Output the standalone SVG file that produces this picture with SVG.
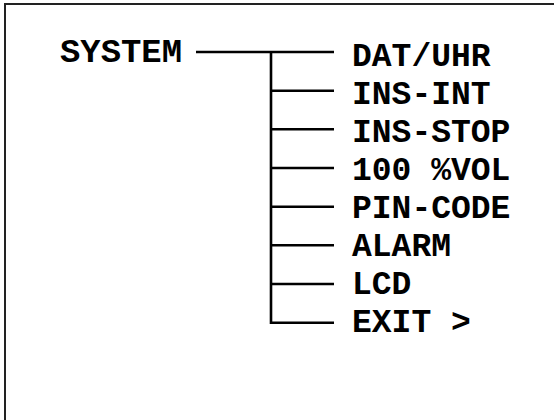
<svg xmlns="http://www.w3.org/2000/svg" width="554" height="420" viewBox="0 0 554 420">
<style>
.t{font-family:"Liberation Mono","Courier New",monospace;font-weight:bold;font-size:33px;fill:#000}
.c{stroke:#000;stroke-width:2.6;fill:none}
.b{stroke:#222;stroke-width:2;fill:none}
</style>
<rect width="554" height="420" fill="#fff"/>
<path class="b" d="M5,420 V4 H554"/>
<g id="system"><text class="t" x="60" y="62" textLength="122" lengthAdjust="spacingAndGlyphs">SYSTEM</text></g>
<g id="connectors">
<path class="c" d="M196,52 H334 M271,52 V322.7 H334 M271,90.7 H334 M271,129.3 H334 M271,168 H334 M271,206.7 H334 M271,245.3 H334 M271,284 H334"/>
</g>
<g id="n1"><text class="t" x="352" y="65.7">DAT/UHR</text></g>
<g id="n2"><text class="t" x="352" y="103.7">INS-INT</text></g>
<g id="n3"><text class="t" x="352" y="141.7">INS-STOP</text></g>
<g id="n4"><text class="t" x="352" y="179.7">100 %VOL</text></g>
<g id="n5"><text class="t" x="352" y="217.7">PIN-CODE</text></g>
<g id="n6"><text class="t" x="352" y="255.7">ALARM</text></g>
<g id="n7"><text class="t" x="352" y="293.7">LCD</text></g>
<g id="n8"><text class="t" x="352" y="331.7">EXIT &gt;</text></g>
</svg>
